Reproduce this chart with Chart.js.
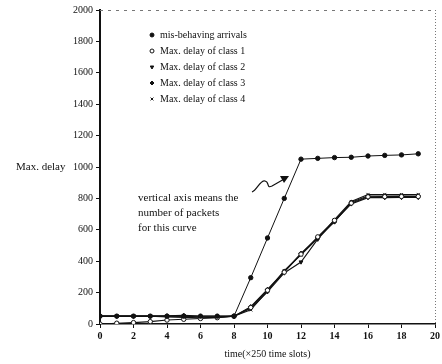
<!DOCTYPE html>
<html>
<head>
<meta charset="utf-8">
<script src="https://cdn.jsdelivr.net/npm/chart.js"></script>
<style>
  body { margin: 0; background: #fff; }
  #wrap { width: 442px; height: 364px; }
</style>
</head>
<body>
<div id="wrap"><canvas id="delay-chart" width="442" height="364"></canvas></div>
<script>
// time axis (x 250 time slots)
const times = [0, 1, 2, 3, 4, 5, 6, 7, 8, 9, 10, 11, 12, 13, 14, 15, 16, 17, 18, 19];
const xTicks = [0, 2, 4, 6, 8, 10, 12, 14, 16, 18, 20];
const yTicks = [0, 200, 400, 600, 800, 1000, 1200, 1400, 1600, 1800, 2000];

const misbehaving = [50, 50, 50, 50, 50, 50, 50, 50, 50, 295, 548, 800, 1050, 1055, 1060, 1062, 1070, 1074, 1077, 1084];
const class1 = [0, 5, 9, 15, 25, 30, 35, 40, 50, 105, 215, 330, 445, 555, 660, 770, 810, 811, 812, 812];
const class2 = [50, 50, 50, 50, 45, 42, 40, 42, 50, 100, 205, 325, 395, 540, 655, 765, 805, 805, 806, 806];
const class3 = [50, 50, 50, 50, 52, 55, 50, 50, 50, 110, 220, 335, 450, 550, 650, 775, 815, 815, 815, 815];
const class4 = [50, 50, 50, 50, 50, 50, 45, 45, 50, 90, 210, 340, 440, 545, 665, 780, 825, 825, 824, 825];

const legendLabels = ['mis-behaving arrivals', 'Max. delay of class 1', 'Max. delay of class 2', 'Max. delay of class 3', 'Max. delay of class 4'];
const note = ['vertical axis means the', 'number of packets', 'for this curve'];

const serif = '"Liberation Serif", "DejaVu Serif", serif';

const toPoints = arr => arr.map((v, i) => ({ x: times[i], y: v }));

const mk = (label, data, style, fill, width, rot) => ({
    label: label,
    data: toPoints(data),
    borderColor: '#111',
    backgroundColor: fill,
    borderWidth: width,
    pointStyle: style,
    pointRotation: rot || 0,
    pointRadius: 2.2,
    pointBorderWidth: 1,
    pointBorderColor: '#111',
    pointBackgroundColor: fill,
    tension: 0
});

// draws the borders, legend, y title and the note with its arrow
const overlay = {
    id: 'overlay',
    afterDraw(chart) {
        const { ctx, chartArea: a, scales: { y } } = chart;
        ctx.save();
        ctx.strokeStyle = '#777';
        ctx.lineWidth = 1;
        ctx.setLineDash([3, 5]);
        ctx.beginPath();
        ctx.moveTo(a.left, a.top + 0.5);
        ctx.lineTo(a.right, a.top + 0.5);
        ctx.stroke();
        ctx.setLineDash([1, 2]);
        ctx.beginPath();
        ctx.moveTo(a.right + 0.5, a.top);
        ctx.lineTo(a.right + 0.5, a.bottom);
        ctx.stroke();
        ctx.setLineDash([]);

        ctx.fillStyle = '#111';
        ctx.font = '11px ' + serif;
        ctx.textBaseline = 'middle';
        ctx.fillText('Max. delay', 16, y.getPixelForValue(1000));

        // legend
        ctx.font = '10px ' + serif;
        chart.data.datasets.forEach((ds, i) => {
            const ly = a.top + 25 + i * 16;
            ctx.fillStyle = ds.pointBackgroundColor;
            ctx.strokeStyle = '#111';
            Chart.helpers.drawPoint(ctx, { pointStyle: ds.pointStyle, rotation: ds.pointRotation, radius: 2, borderWidth: 1 }, a.left + 52, ly);
            ctx.fillStyle = '#111';
            ctx.fillText(legendLabels[i], a.left + 60, ly);
        });

        // note
        ctx.font = '11px ' + serif;
        note.forEach((t, i) => ctx.fillText(t, a.left + 38, a.top + 188 + i * 15));

        // squiggly arrow
        const ox = a.left, oy = a.top;
        ctx.strokeStyle = '#111';
        ctx.lineWidth = 1.2;
        ctx.beginPath();
        ctx.moveTo(ox + 152, oy + 182);
        ctx.bezierCurveTo(ox + 157, oy + 180, ox + 160, oy + 170, ox + 165, oy + 171);
        ctx.bezierCurveTo(ox + 170, oy + 172, ox + 166, oy + 179, ox + 172, oy + 176);
        ctx.lineTo(ox + 186, oy + 168);
        ctx.stroke();
        ctx.beginPath();
        ctx.moveTo(ox + 189, oy + 166);
        ctx.lineTo(ox + 180, oy + 166);
        ctx.lineTo(ox + 184, oy + 173);
        ctx.closePath();
        ctx.fillStyle = '#111';
        ctx.fill();
        ctx.restore();
    }
};

new Chart(document.getElementById('delay-chart').getContext('2d'), {
    type: 'line',
    data: {
        datasets: [
            mk(legendLabels[0], misbehaving, 'circle', '#111', 1),
            mk(legendLabels[1], class1, 'circle', '#fff', 1.1),
            mk(legendLabels[2], class2, 'triangle', '#111', 1.1, 180),
            mk(legendLabels[3], class3, 'rectRot', '#111', 1.1),
            mk(legendLabels[4], class4, 'crossRot', '#111', 1.1)
        ]
    },
    options: {
        responsive: false,
        animation: false,
        layout: { padding: { top: 10, right: 5, left: 0, bottom: 0 } },
        plugins: {
            legend: { display: false },
            tooltip: { enabled: false }
        },
        scales: {
            x: {
                type: 'linear',
                min: 0,
                max: 20,
                afterBuildTicks: s => { s.ticks = xTicks.map(v => ({ value: v })); },
                afterFit: s => { s.height = 40; },
                grid: { drawOnChartArea: false, color: '#111', tickLength: 4 },
                border: { color: '#111', width: 1.5 },
                ticks: { color: '#111', font: { family: serif, size: 10, weight: 'bold' }, padding: 2, maxRotation: 0, callback: v => String(v) },
                title: { display: true, text: 'time(×250 time slots)', color: '#111', font: { family: serif, size: 10 }, padding: { top: 4, bottom: 4 } }
            },
            y: {
                min: 0,
                max: 2000,
                afterBuildTicks: s => { s.ticks = yTicks.map(v => ({ value: v })); },
                afterFit: s => { s.width = 100; },
                grid: { drawOnChartArea: false, color: '#111', tickLength: 4 },
                border: { color: '#111', width: 2 },
                ticks: { color: '#111', font: { family: serif, size: 10 }, padding: 3, callback: v => String(v) }
            }
        }
    },
    plugins: [overlay]
});
</script>
</body>
</html>
